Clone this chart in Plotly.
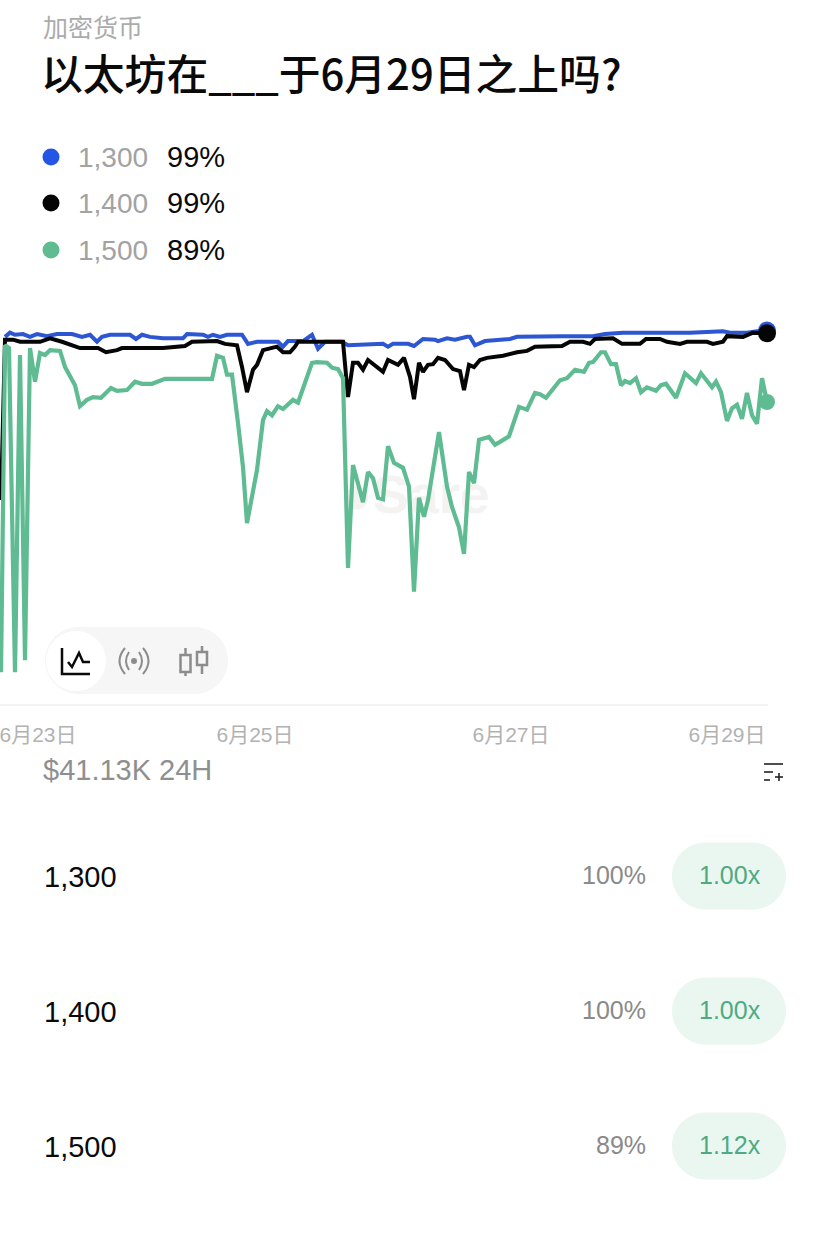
import plotly.graph_objects as go

# ---- data: time in chart samples, values in percent ----
blue_t = [1,2,3,4.6,6,7.4,9.4,11.4,14.4,16.4,18,19.4,20.4,22,26,27.2,28.4,30,32.6,36.6,37.4,40.6,41.6,42.6,44,45.4,48.4,49.6,51.4,55.6,56.6,57.6,60.6,62.4,63.6,65,68.4,69.6,76.6,77.6,78.6,81.6,82.8,84.6,87,87.6,89.4,91,93.4,94,95,97,102,103.4,112.6,118.6,121,124.6,138,144.6,146,149.4,151.4,153.4]
blue_v = [98.3,98.9,98.6,98.7,98.3,98.7,98.4,98.7,98.7,98.3,98.6,97.6,98.3,98.6,98.6,98,98.6,98.3,98.1,98.1,98.7,98.6,98.3,98.6,98.3,98.6,98.6,97.3,97.6,97.6,96.9,97.7,97.7,98.6,96.6,97.6,97.6,97.1,97.3,96.9,97.3,97.3,97,98,97.9,97.7,98.1,97.9,98.3,98.3,97.1,97.7,98,98.3,98.4,98.4,98.7,98.9,98.9,99.1,98.9,98.9,99.1,99.2]

black_t = [0.2,0.8,1,2.6,4,8,10,12.4,16,19.6,21.2,23.4,24.4,32.6,37,38.4,40.6,43.4,45,47.4,48.4,49.4,50.6,51.4,52.6,54.4,55.4,56.6,58,59,59.6,68.6,69.6,70.6,71.6,72.6,73.6,76.6,77.6,79.6,80.8,82,82.8,83.8,84.6,85.6,86.6,87.6,89,90.6,92,92.8,93.8,94.8,96,97.4,100.6,103.4,105.4,107,112.4,114,116.6,118,119,122.6,124.4,128,129.2,132,133.4,136,137.4,141.4,142.6,144.6,145.4,148.6,150.6,153.4]
black_v = [75,97.6,97.9,97.9,97.6,97.6,98.1,97.6,96.7,96.7,96.1,96.4,96.7,96.7,97,97.6,97.7,97.7,97.3,97.1,94,90.4,93.6,94.3,96.4,96.7,96.9,96.1,96.1,96.9,97.6,97.6,89.7,94.6,94.6,93.6,95,93.3,95,94.3,95.3,92.6,89.4,94.6,93.3,94.3,94.4,95.3,95,93.7,93.4,90.7,94.3,94,95,95.3,95.6,96.1,96.3,96.9,97,97.6,97.6,97.3,98,98.1,97.3,97.3,98,98,97.6,97.3,97.6,97.6,97.3,97.6,98.4,98.3,98.9,98.8]

green_t = [0.2,1,1.8,3,4,5,6,7,8,9,10,12,13,15,16,17.4,18.6,20.2,22.2,23.4,25.4,27,28.4,30.4,33,42.4,43.4,44.6,45.4,46.4,47.6,48.6,49.4,51.4,52.6,53.4,54.4,55.6,56.6,58,58.6,59.6,60.6,62.4,63.4,65.4,66.4,67.6,68.6,69.6,70.6,72.6,73.6,74.6,75.6,76.6,77.6,78.8,80.6,81.8,82.8,83.8,84.8,85.6,87.8,89.4,90.4,91.8,92.8,93.8,94.8,95.8,97.8,99,100,101.8,103.8,105.4,107,108,109.2,112,113.4,115,116.8,117.8,118.6,120.2,121,122.2,123.2,124.2,125,126,127.2,128.2,129.4,131.2,132.2,133.2,135.2,137,139.2,140.2,142.4,143.2,144.2,145.4,146.4,147.4,148.4,149.4,150.4,151.4,152.4,153,153.4]
green_v = [50.4,97.1,96.7,50.4,95.7,52.1,96.7,91.9,96,95.7,96.4,96.3,94,91.4,88.4,89.3,89.7,89.6,91,90.6,90.7,91.9,91.6,91.6,92.3,92.3,95.6,95.3,92.9,92.9,86,79.7,71.7,79.3,86.4,87.7,87.1,88.4,88,89,89.3,88.9,91,94.6,94.7,94.6,93.9,93.7,92.4,65.3,80,74.7,79,78.1,75.3,75.1,82.7,80.3,79.6,76.9,61.9,75.3,72.6,75,84.7,76.9,74,71.1,67.3,79,77.4,83.6,84,82.9,83.3,84.1,88.3,87.9,90.3,90.1,89.6,92.1,92.4,93.6,93.3,94.6,94.7,96.1,96.1,94.4,94.4,91.4,92,91.7,92.4,90.4,91.1,90.6,91.4,91.6,89.6,93.1,91.7,93.1,91.1,91.9,90.4,86.3,88.1,88.6,86.6,90.3,87.1,85.9,92.4,90,89]

tick_pos = [7.6, 51, 102.2, 145.4]
tick_text = ["6月23日", "6月25日", "6月27日", "6月29日"]

outcomes = ["1,300", "1,400", "1,500"]
chances = ["99%", "99%", "89%"]
table_pct = ["100%", "100%", "89%"]
table_mult = ["1.00x", "1.00x", "1.12x"]

title = "以太坊在___于6月29日之上吗?"
category = "加密货币"
volume = "$41.13K 24H"

# ---- styling ----
W, H = 828, 1257
BLUE, BLACK, GREEN = "#2C56D2", "#050505", "#5FBB92"
LEGEND_DOTS = ["#2356E4", "#050505", "#5FBB92"]
FONT = "Liberation Sans, Noto Sans CJK SC, sans-serif"
CJK = "Noto Sans CJK SC, Liberation Sans, sans-serif"

def fx(p): return p / W
def fy(p): return 1 - p / H

def label(text, x, y, size, color, anchor="left", family=FONT, weight=None):
    f = dict(size=size, color=color, family=family)
    if weight: f["weight"] = weight
    return dict(text=text, x=fx(x), y=fy(y), xref="paper", yref="paper", xanchor=anchor,
                yanchor="middle", showarrow=False, font=f, borderpad=0)

def pill(x0, y0, x1, y1, color, layer="below"):
    r = (y1 - y0) / 2
    k = r * 0.55
    d = (f"M {fx(x0+r)} {fy(y0)} L {fx(x1-r)} {fy(y0)} "
         f"C {fx(x1-r+k)} {fy(y0)} {fx(x1)} {fy(y0+r-k)} {fx(x1)} {fy(y0+r)} "
         f"C {fx(x1)} {fy(y0+r+k)} {fx(x1-r+k)} {fy(y1)} {fx(x1-r)} {fy(y1)} "
         f"L {fx(x0+r)} {fy(y1)} "
         f"C {fx(x0+r-k)} {fy(y1)} {fx(x0)} {fy(y0+r+k)} {fx(x0)} {fy(y0+r)} "
         f"C {fx(x0)} {fy(y0+r-k)} {fx(x0+r-k)} {fy(y0)} {fx(x0+r)} {fy(y0)} Z")
    return dict(type="path", path=d, xref="paper", yref="paper", fillcolor=color, line_width=0, layer=layer)

def stroke(points, color, width, q=False):
    if q:
        (a, b), (c, e), (g, h) = points
        d = f"M {fx(a)} {fy(b)} Q {fx(c)} {fy(e)} {fx(g)} {fy(h)}"
    else:
        d = "M " + " L ".join(f"{fx(a)} {fy(b)}" for a, b in points)
    return dict(type="path", path=d, xref="paper", yref="paper",
                line=dict(color=color, width=width), layer="above")

def dot(cx, cy, r, color, layer="above"):
    return dict(type="circle", xref="paper", yref="paper", x0=fx(cx-r), x1=fx(cx+r),
                y0=fy(cy+r), y1=fy(cy-r), fillcolor=color, line_width=0, layer=layer)

def box(x0, y0, x1, y1, color, width):
    return dict(type="rect", xref="paper", yref="paper", x0=fx(x0), x1=fx(x1), y0=fy(y1), y1=fy(y0),
                line=dict(color=color, width=width), fillcolor="rgba(0,0,0,0)", layer="above")

fig = go.Figure()
fig.add_trace(go.Scatter(x=[83], y=[75], mode="text", text=["●Sare"],
                         textfont=dict(size=54, color="#F5F2F2", family=FONT, weight=700), hoverinfo="skip"))
for t, v, c, ms, lw in [(blue_t, blue_v, BLUE, 18, 4), (black_t, black_v, BLACK, 18, 4), (green_t, green_v, GREEN, 16, 4.2)]:
    fig.add_trace(go.Scatter(x=t, y=v, mode="lines", line=dict(color=c, width=lw, shape="linear"), cliponaxis=False))
    fig.add_trace(go.Scatter(x=[t[-1]], y=[v[-1]], mode="markers", marker=dict(color=c, size=ms), cliponaxis=False))

ann = [
    label(category, 42, 26, 25, "#ABABAB", family=CJK),
    label(title, 40, 72, 41.8, "#0A0A0A", family=CJK, weight=500),
    label(volume, 42, 770, 29, "#8F8F8F"),
]
shapes = []
for i, (o, c) in enumerate(zip(outcomes, chances)):
    y = [157, 203, 250][i]
    shapes.append(dot(51, y, 8.5, LEGEND_DOTS[i]))
    ann.append(label(o, 77, y, 28, "#A2A2A2"))
    ann.append(label(c, 166, y, 29, "#0A0A0A"))
for i, (o, p, m) in enumerate(zip(outcomes, table_pct, table_mult)):
    y = [876, 1011, 1146][i]
    shapes.append(pill(672, y-33.5, 786, y+33.5, "#E9F7F0"))
    ann.append(label(o, 43, y+1, 29, "#0A0A0A"))
    ann.append(label(p, 647, y-1, 25, "#8A8A8A", anchor="right"))
    ann.append(label(m, 730, y-1, 25, "#4FAA82", anchor="center"))

# chart-type switcher
shapes.append(pill(45, 627, 228, 694, "#F6F6F7"))
shapes.append(dot(76, 661, 30, "#FFFFFF", layer="below"))
shapes.append(stroke([(62, 648), (62, 674), (90, 674)], "#0A0A0A", 2.5))
shapes.append(stroke([(68, 662), (72, 667), (79, 653), (83, 662), (90, 662)], "#0A0A0A", 2.5))
G = "#8C8C8C"
shapes.append(dot(134, 661, 3, G))
shapes.append(stroke([(129, 652), (123, 661), (129, 670)], G, 2, q=True))
shapes.append(stroke([(125, 648), (114, 661), (125, 674)], G, 2, q=True))
shapes.append(stroke([(139, 652), (145, 661), (139, 670)], G, 2, q=True))
shapes.append(stroke([(143, 648), (154, 661), (143, 674)], G, 2, q=True))
shapes.append(box(180.5, 655, 190.5, 672, G, 2.5))
shapes.append(stroke([(185.5, 648), (185.5, 655)], G, 2.5))
shapes.append(stroke([(185.5, 672), (185.5, 676)], G, 2.5))
shapes.append(box(197, 652, 207, 665, G, 2.5))
shapes.append(stroke([(202, 646), (202, 652)], G, 2.5))
shapes.append(stroke([(202, 665), (202, 674)], G, 2.5))
# sort/add icon
for a, b, yy in [(764, 783, 764), (764, 773, 772), (764, 770, 780)]:
    shapes.append(stroke([(a, yy), (b, yy)], "#222222", 1.6))
shapes.append(stroke([(775, 777), (783, 777)], "#222222", 1.6))
shapes.append(stroke([(779, 773), (779, 781)], "#222222", 1.6))

fig.update_layout(
    width=W, height=H, margin=dict(l=0, r=0, t=0, b=0),
    paper_bgcolor="white", plot_bgcolor="rgba(0,0,0,0)", showlegend=False, hovermode=False,
    annotations=ann, shapes=shapes,
    xaxis=dict(domain=[0, 768 / W], range=[0, 153.6], tickmode="array", tickvals=tick_pos, ticktext=tick_text,
               showgrid=False, zeroline=False, showline=True, linecolor="#F3F3F3", linewidth=2, ticks="",
               tickfont=dict(size=21, color="#B2B2B2", family=FONT), ticklabelstandoff=11,
               ticklabeloverflow="allow", fixedrange=True),
    yaxis=dict(domain=[fy(704), fy(320)], range=[45.86, 100.71], visible=False, fixedrange=True),
)
fig.write_html("out.html", config={"displayModeBar": False},
               post_script="document.body.style.margin='0';document.documentElement.style.overflow='hidden';")
